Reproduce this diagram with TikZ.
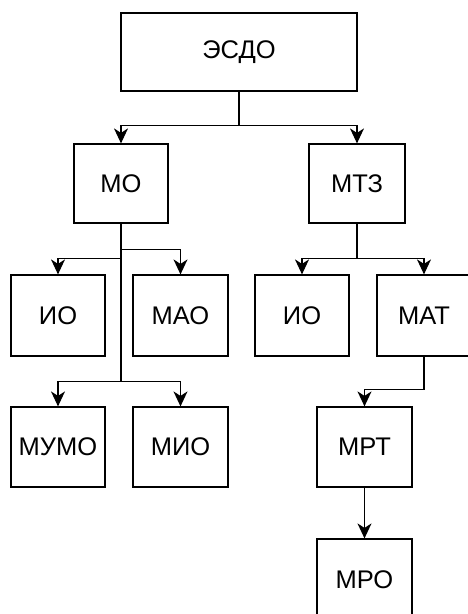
\documentclass[tikz,border=0pt]{standalone}
\usepackage{fontspec}
\setmainfont{Liberation Sans}
\usetikzlibrary{arrows.meta}
\tikzset{
  box/.style={draw, line width=1.2pt, inner sep=0pt, fill=white, font=\fontsize{25.5}{30}\selectfont},
  arr/.style={line width=1.3pt, -{Stealth[length=15pt,width=14pt,inset=4.5pt]}},
}
\begin{document}
\begin{tikzpicture}[x=1pt,y=-1pt]
\useasboundingbox (0,0) rectangle (468,614);
\clip (0,0) rectangle (468,614);
\node[box, minimum width=236pt, minimum height=78pt] (esdo) at (239,52) {ЭСДО};
\node[box, minimum width=94pt, minimum height=79pt] (mo) at (121,183.5) {МО};
\node[box, minimum width=96pt, minimum height=79pt] (mtz) at (357,183.5) {МТЗ};
\node[box, minimum width=94pt, minimum height=81pt] (io1) at (58,315.5) {ИО};
\node[box, minimum width=95pt, minimum height=81pt] (mao) at (180.5,315.5) {МАО};
\node[box, minimum width=94pt, minimum height=81pt] (io2) at (302,315.5) {ИО};
\node[box, minimum width=94pt, minimum height=81pt] (mat) at (424,315.5) {МАТ};
\node[box, minimum width=94pt, minimum height=80pt] (mumo) at (58,447) {МУМО};
\node[box, minimum width=95pt, minimum height=80pt] (mio) at (180.5,447) {МИО};
\node[box, minimum width=95pt, minimum height=80pt] (mrt) at (364.5,447) {МРТ};
\node[box, minimum width=95pt, minimum height=81pt] (mro) at (364.5,579.5) {МРО};
\draw[arr] (esdo.south) -- ++(0,34) -| (mo.north);
\draw[arr] (esdo.south) -- ++(0,34) -| (mtz.north);
\draw[arr] (mo.south) -- ++(0,35) -| (io1.north);
\draw[arr] (mo.south) -- ++(0,26) -| (mao.north);
\draw[arr] (mo.south) -- ++(0,158) -| (mumo.north);
\draw[arr] (mo.south) -- ++(0,158) -| (mio.north);
\draw[arr] (mtz.south) -- ++(0,35) -| (io2.north);
\draw[arr] (mtz.south) -- ++(0,35) -| (mat.north);
\draw[arr] (mat.south) -- ++(0,33) -| (mrt.north);
\draw[arr] (mrt.south) -- (mro.north);
\end{tikzpicture}
\end{document}
